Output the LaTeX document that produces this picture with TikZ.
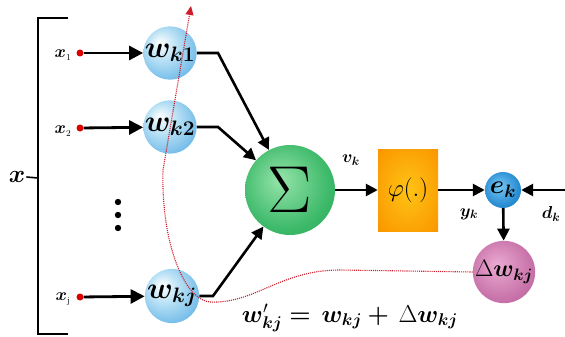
\documentclass[tikz,border=0pt]{standalone}
\usepackage{graphicx}
\usepackage{amsmath,bm}
\usetikzlibrary{arrows.meta}
\definecolor{wA}{RGB}{185,225,245}
\definecolor{wB}{RGB}{110,185,232}
\definecolor{wC}{RGB}{70,155,220}
\definecolor{gA}{RGB}{150,228,170}
\definecolor{gB}{RGB}{60,185,105}
\definecolor{gC}{RGB}{25,140,75}
\definecolor{oA}{RGB}{255,195,20}
\definecolor{oB}{RGB}{250,150,0}
\definecolor{oC}{RGB}{232,100,0}
\definecolor{eA}{RGB}{120,200,245}
\definecolor{eB}{RGB}{40,140,210}
\definecolor{eC}{RGB}{20,100,170}
\definecolor{pA}{RGB}{235,170,210}
\definecolor{pB}{RGB}{200,115,170}
\definecolor{pC}{RGB}{160,70,130}
\definecolor{redline}{RGB}{205,30,45}
\pgfdeclareradialshading{wball}{\pgfpoint{-10bp}{10bp}}{color(0bp)=(white); color(14bp)=(wA); color(32bp)=(wB); color(55bp)=(wC)}
\pgfdeclareradialshading{gball}{\pgfpoint{-6bp}{6bp}}{color(0bp)=(gA); color(25bp)=(gB); color(52bp)=(gC)}
\pgfdeclareradialshading{oshade}{\pgfpoint{0bp}{0bp}}{color(0bp)=(oA); color(35bp)=(oB); color(70bp)=(oC)}
\pgfdeclareradialshading{eball}{\pgfpoint{-6bp}{6bp}}{color(0bp)=(eA); color(25bp)=(eB); color(52bp)=(eC)}
\pgfdeclareradialshading{pball}{\pgfpoint{-6bp}{6bp}}{color(0bp)=(pA); color(25bp)=(pB); color(52bp)=(pC)}
\tikzset{
  wnode/.style={circle, shading=wball, minimum size=50pt, inner sep=0pt, font=\fontsize{20}{22}\selectfont},
  conn/.style={line width=2.6pt, -{Triangle[length=12pt,width=12pt]}},
  inarrow/.style={line width=2.8pt, -{Triangle[length=14pt,width=14pt]}},
  rdot/.style={circle, fill=red!85!black, minimum size=7pt, inner sep=0pt},
  inlabel/.style={font=\fontsize{19}{20}\selectfont},
  lab/.style={font=\fontsize{18}{19}\selectfont},
}
\begin{document}
\begin{tikzpicture}[x=1pt,y=-1pt]
\useasboundingbox (0,0) rectangle (565,337);
% bracket
\node[font=\fontsize{20}{22}\selectfont, inner sep=1pt] (xlab) at (17,177) {\scalebox{1.2}{$\bm{x}$}};
\coordinate (brk) at (38,178);
\draw[line width=1.6pt] (68,18) -- (38,18) -- (38,334) -- (68,334);
\draw[line width=1.6pt] (xlab.east) -- (brk);
% inputs
\node[inlabel] (x1) at (63,55) {$\bm{x}_{\scriptscriptstyle 1}$};
\node[inlabel] (x2) at (63,131) {$\bm{x}_{\scriptscriptstyle 2}$};
\node[inlabel] (xj) at (63,299) {$\bm{x}_{\scriptscriptstyle\mathrm{j}}$};
\node[rdot] (d1) at (80,53) {};
\node[rdot] (d2) at (80,128) {};
\node[rdot] (dj) at (80,297) {};
% weight circles
\node[wnode] (w1) at (170,53) {\scalebox{1.45}{$\bm{w}_{\bm{k1}}$}};
\node[wnode] (w2) at (170,127) {\scalebox{1.45}{$\bm{w}_{\bm{k2}}$}};
\node[wnode] (wj) at (172,296) {\scalebox{1.45}{$\bm{w}_{\bm{kj}}$}};
% vertical dots
\fill (118,202) circle (3.2pt);
\fill (118,215) circle (3.2pt);
\fill (118,228) circle (3.2pt);
% summation
\node[circle, shading=gball, minimum size=90pt, inner sep=0pt, font=\fontsize{20}{22}\selectfont] (sig) at (290,190) {\scalebox{3.2}{$\Sigma$}};
% activation box
\node[rectangle, shading=oshade, minimum width=60pt, minimum height=82pt, inner sep=0pt, font=\fontsize{20}{22}\selectfont] (box) at (408,190) {\scalebox{1.2}{$\varphi(.)$}};
% error
\node[circle, shading=eball, minimum size=36pt, inner sep=0pt, font=\fontsize{20}{22}\selectfont] (ek) at (503,190) {\scalebox{1.25}{$\bm{e}_{\bm{k}}$}};
\node[circle, shading=pball, minimum size=50pt, inner sep=0pt, font=\fontsize{20}{22}\selectfont] (dw) at (504,272) {\scalebox{1.15}{$\Delta\bm{w}_{\bm{kj}}$}};
% labels
\node[lab] (vk) at (351,160) {$\bm{v}_{\bm{k}}$};
\node[lab] (yk) at (469,214) {$\bm{y}_{\bm{k}}$};
\node[lab] (dk) at (551,214) {$\bm{d}_{\bm{k}}$};
\coordinate (dkin) at (565,190);
% input arrows
\draw[inarrow] (d1) -- (w1);
\draw[inarrow] (d2) -- (w2);
\draw[inarrow] (dj) -- (wj);
% weights to sum
\draw[conn] (w1.east) -- (218,53) -- (sig);
\draw[conn] (w2.east) -- (218,127) -- (sig);
\draw[conn] (wj.east) -- (213,296) -- (sig);
% forward chain
\draw[conn] (sig) -- (box);
\draw[conn] (box) -- (ek);
\draw[conn] (dkin) -- (ek);
\draw[conn] (ek) -- (dw);
% red dotted feedback
\coordinate (top) at (191,6);
\draw[redline, line width=1.1pt, densely dotted, -{Triangle[length=9pt,width=8pt]}]
  (dw.west) -- (340,270) .. controls (280,270) and (255,304) .. (210,302)
  .. controls (185,300) and (161,245) .. (163,170) -- (top);
% formula
\node[font=\fontsize{20}{22}\selectfont] (eq) at (350,318) {\scalebox{1.18}{$\bm{w}'_{\bm{kj}}\bm{=}\,\bm{w}_{\bm{kj}}\bm{+}\,\Delta\bm{w}_{\bm{kj}}$}};
\end{tikzpicture}
\end{document}
